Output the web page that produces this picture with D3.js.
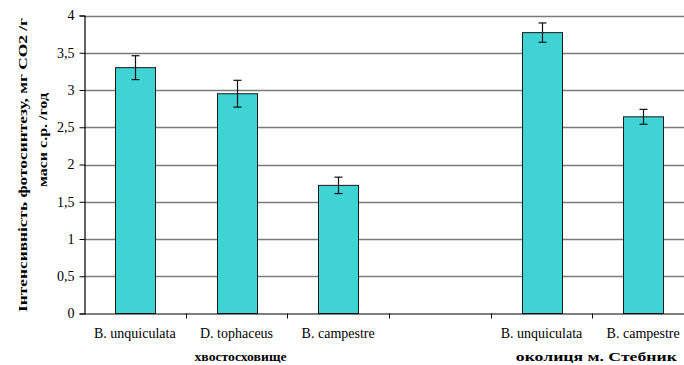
<!DOCTYPE html>
<html>
<head>
<meta charset="utf-8">
<script src="https://cdn.jsdelivr.net/npm/d3@7"></script>
<style>
  html, body { margin: 0; padding: 0; background: #fff; }
  svg { display: block; }
  svg text { font-family: "Liberation Serif", "Times New Roman", serif; fill: #000; }
</style>
</head>
<body>
<svg id="chart" width="684" height="365"></svg>
<script>
// Photosynthesis intensity by species and site
const categories = ["B. unquiculata", "D. tophaceus", "B. campestre", "", "B. unquiculata", "B. campestre"];
const values     = [3.30, 2.95, 1.72, null, 3.77, 2.64];
const errors     = [0.16, 0.18, 0.11, null, 0.13, 0.10];
const groups     = [
  { label: "хвостосховище", from: 0, to: 2 },
  { label: "околиця м. Стебник", from: 4, to: 5 }
];
const yTicks = [0, 0.5, 1, 1.5, 2, 2.5, 3, 3.5, 4];
const yTitle = ["Інтенсивність фотосинтезу, мг СО2 /г", "маси с.р. /год"];

const svg = d3.select("#chart");
const plotLeft = 84, plotRight = 694, plotTop = 15.5, plotBottom = 313.5;
const serif = '"Liberation Serif", "Times New Roman", serif';

const x = d3.scaleBand().domain(d3.range(categories.length)).range([plotLeft, plotRight]).paddingInner(0).paddingOuter(0);
const y = d3.scaleLinear().domain([0, 4]).range([plotBottom, plotTop]);
const fmt = d => String(d).replace(".", ",");

// Horizontal gridlines
svg.append("g").selectAll("line").data(yTicks.filter(d => d > 0)).join("line")
  .attr("x1", plotLeft).attr("x2", 684)
  .attr("y1", d => Math.round(y(d)) + 0.5).attr("y2", d => Math.round(y(d)) + 0.5)
  .attr("stroke", "#7a7a7a").attr("stroke-width", 1.4);

// Bars
const barW = 40;
const idx = d3.range(categories.length).filter(i => values[i] != null);
svg.append("g").selectAll("rect").data(idx).join("rect")
  .attr("x", i => Math.round(x(i) + x.bandwidth() / 2 - barW / 2) + 0.5)
  .attr("y", i => y(values[i]))
  .attr("width", barW)
  .attr("height", i => y(0) - y(values[i]))
  .attr("fill", "#3fd3d3")
  .attr("stroke", "#1a1a1a").attr("stroke-width", 1);

// Error bars
const eb = svg.append("g").attr("stroke", "#111").attr("stroke-width", 1.2);
idx.forEach(i => {
  const cx = Math.round(x(i) + x.bandwidth() / 2) + 0.5;
  const hi = y(values[i] + errors[i]), lo = y(values[i] - errors[i]);
  eb.append("line").attr("x1", cx).attr("x2", cx).attr("y1", hi).attr("y2", lo);
  eb.append("line").attr("x1", cx - 4).attr("x2", cx + 4).attr("y1", hi).attr("y2", hi);
  eb.append("line").attr("x1", cx - 4).attr("x2", cx + 4).attr("y1", lo).attr("y2", lo);
});

// Y axis
const yAxis = d3.axisLeft(y).tickValues(yTicks).tickSize(5).tickPadding(5).tickFormat(fmt);
const gy = svg.append("g").attr("transform", `translate(${plotLeft + 0.5},0)`).call(yAxis)
  .attr("font-family", serif).attr("font-size", 14);
gy.select(".domain").attr("stroke", "#000").attr("stroke-width", 1.2);
gy.selectAll(".tick line").attr("stroke", "#000");
gy.selectAll(".tick text").style("font-family", serif).style("font-size", "14px").attr("fill", "#000");

// X axis
const xAxis = d3.axisBottom(x).tickSize(0).tickFormat(i => categories[i]);
const gx = svg.append("g").attr("transform", `translate(0,${plotBottom})`).call(xAxis)
  .attr("font-family", serif).attr("font-size", 14);
gx.select(".domain").attr("stroke", "#000").attr("stroke-width", 1.2);
gx.selectAll(".tick text").attr("dy", 0).attr("y", 24)
  .style("font-family", serif).style("font-size", "14px").attr("fill", "#000");
// category separators
svg.append("g").selectAll("line").data(d3.range(1, categories.length)).join("line")
  .attr("x1", i => Math.round(x(i)) + 0.5).attr("x2", i => Math.round(x(i)) + 0.5)
  .attr("y1", plotBottom).attr("y2", plotBottom + 5).attr("stroke", "#000");

// Group labels
const groupWidths = [92, 161];
svg.append("g").selectAll("text").data(groups).join("text")
  .attr("x", g => (x(g.from) + x(g.to) + x.bandwidth()) / 2 + 4)
  .attr("y", 361)
  .attr("text-anchor", "middle")
  .attr("textLength", (g, i) => groupWidths[i]).attr("lengthAdjust", "spacingAndGlyphs")
  .style("font-family", serif).style("font-weight", "bold").style("font-size", "12.5px")
  .text(g => g.label);

// Y axis title
const t = svg.append("g").style("font-family", serif).style("font-weight", "bold").style("font-size", "13px");
t.append("text").attr("transform", "translate(27,165) rotate(-90)").attr("text-anchor", "middle")
  .attr("textLength", 294).attr("lengthAdjust", "spacingAndGlyphs").text(yTitle[0]);
t.append("text").attr("transform", "translate(47,140) rotate(-90)").attr("text-anchor", "middle")
  .attr("textLength", 94).attr("lengthAdjust", "spacingAndGlyphs").text(yTitle[1]);
</script>
</body>
</html>
